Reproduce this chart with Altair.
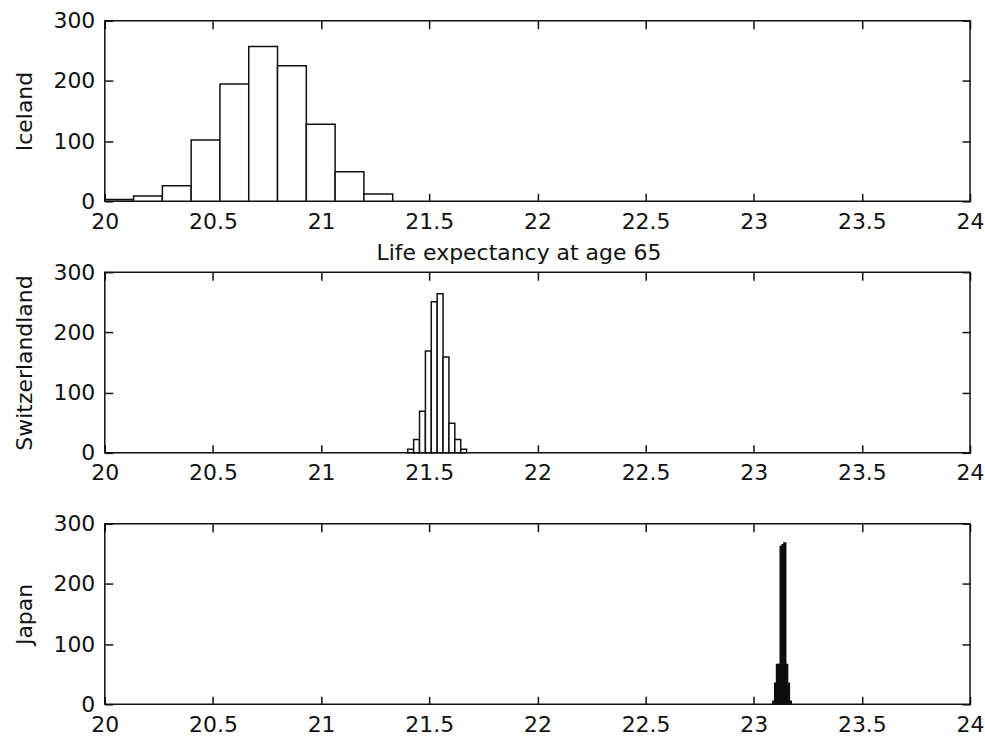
import altair as alt
import pandas as pd

# ---- data ----
x_ticks = [20, 20.5, 21, 21.5, 22, 22.5, 23, 23.5, 24]
y_ticks = [0, 100, 200, 300]

iceland_counts = [3, 9, 26, 102, 195, 257, 225, 128, 49, 12]
iceland_first_edge = 20.0
iceland_bin_width = 0.1331

swiss_counts = [6, 22, 69, 169, 251, 264, 159, 49, 22, 6]
swiss_first_edge = 21.4006
swiss_bin_width = 0.0272

japan_counts = [5, 35, 66, 66, 262, 265, 268, 66, 35, 5]
japan_first_edge = 23.0885
japan_bin_width = 0.0085

panel_labels = ["Iceland", "Switzerlandland", "Japan"]
x_label = "Life expectancy at age 65"

W, H = 867, 181
FONT = "DejaVu Sans"


def make_df(counts, first, width):
    lo = [first + i * width for i in range(len(counts))]
    return pd.DataFrame({"lo": lo, "hi": [v + width for v in lo], "count": counts})


def panel(counts, first, width, ylabel, show_xlabel, fill="white"):
    df = make_df(counts, first, width)
    xs = alt.Scale(domain=[20, 24], nice=False, zero=False)
    ys = alt.Scale(domain=[0, 300], nice=False)
    bottom = dict(orient="bottom", values=x_ticks, format="~g", offset=-8, tickSize=8,
                  domain=False, grid=False, labelPadding=10, labelFlush=False,
                  labelOverlap=False)
    if show_xlabel:
        bottom.update(title=x_label, titleX=414.5, titleY=66, titleAlign="center",
                      titleBaseline="alphabetic", titleAngle=0)
    else:
        bottom.update(title=None)
    left = dict(orient="left", values=y_ticks, format="d", offset=-8, tickSize=8,
                domain=False, grid=False, labelPadding=10, labelFlush=False,
                labelOverlap=False, title=ylabel, titleX=-81.5, titleY=H / 2,
                titleAngle=270, titleAlign="center", titleBaseline="alphabetic")
    base = alt.Chart(df)
    bars = base.mark_bar(fill=fill, stroke="#111111", strokeWidth=1.5).encode(
        x=alt.X("lo:Q", scale=xs, axis=alt.Axis(**bottom)),
        x2="hi:Q",
        y=alt.Y("count:Q", scale=ys, axis=alt.Axis(**left)),
        y2=alt.datum(0),
    )
    frame = base.mark_bar(opacity=0).encode(
        x=alt.X("lo:Q", scale=xs, axis=alt.Axis(orient="top", values=x_ticks, offset=-8,
                                                  tickSize=8, labels=False, domain=False,
                                                  grid=False, title=None)),
        x2="hi:Q",
        y=alt.Y("count:Q", scale=ys, axis=alt.Axis(orient="right", values=y_ticks, offset=-8,
                                                     tickSize=8, labels=False, domain=False,
                                                     grid=False, title=None)),
        y2=alt.datum(0),
    )
    return alt.layer(bars, frame).resolve_axis(x="independent", y="independent").properties(
        width=W, height=H)


p1 = panel(iceland_counts, iceland_first_edge, iceland_bin_width, panel_labels[0], True)
p2 = panel(swiss_counts, swiss_first_edge, swiss_bin_width, panel_labels[1], False)
p3 = panel(japan_counts, japan_first_edge, japan_bin_width, panel_labels[2], False,
           fill="black")

chart = alt.VConcatChart(vconcat=[p1, p2, p3], spacing=71, bounds="flush").properties(
    padding={"left": 12, "top": 8, "right": 0, "bottom": 0},
    background="white",
).configure_view(stroke="#111111", strokeWidth=1.5).configure_axis(
    labelFont=FONT, labelFontSize=22, labelColor="#111111",
    titleFont=FONT, titleFontSize=22, titleFontWeight="normal", titleColor="#111111",
    tickColor="#111111", tickWidth=1.5,
)

chart.save("out.html", embed_options={"renderer": "svg", "actions": False})
